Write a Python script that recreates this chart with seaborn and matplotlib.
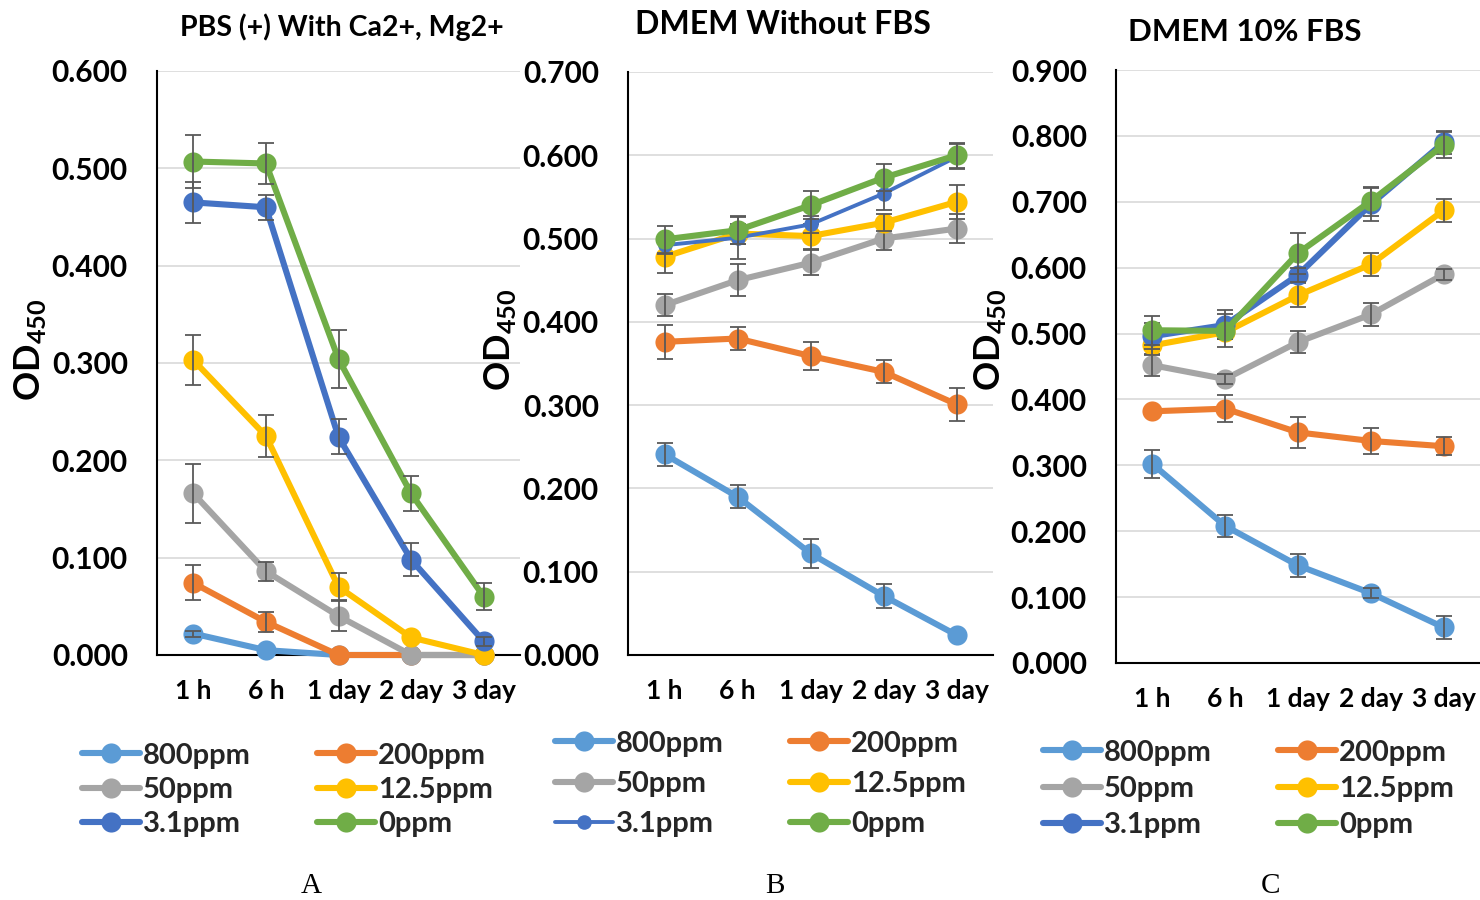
import numpy as np
import pandas as pd
import matplotlib
matplotlib.use("Agg")
import matplotlib.pyplot as plt
from matplotlib.lines import Line2D
from matplotlib.ticker import FormatStrFormatter, MultipleLocator
import seaborn as sns

# ---------------- data ----------------
times = ["1 h", "6 h", "1 day", "2 day", "3 day"]
conc = ["800ppm", "200ppm", "50ppm", "12.5ppm", "3.1ppm", "0ppm"]
colors = ["#5B9BD5", "#ED7D31", "#A5A5A5", "#FFC000", "#4472C4", "#70AD47"]

panel_titles = ["PBS (+) With Ca2+, Mg2+", "DMEM Without FBS", "DMEM 10% FBS"]
panel_letters = ["A", "B", "C"]

pbs_800 = [0.022, 0.005, 0.000, 0.000, 0.000]
pbs_200 = [0.074, 0.034, 0.000, 0.000, 0.000]
pbs_50 = [0.166, 0.086, 0.040, 0.000, 0.000]
pbs_12 = [0.303, 0.225, 0.070, 0.018, 0.000]
pbs_3 = [0.465, 0.460, 0.224, 0.098, 0.014]
pbs_0 = [0.507, 0.505, 0.304, 0.166, 0.060]
pbs_800_err = [0.003, 0.000, 0.000, 0.000, 0.000]
pbs_200_err = [0.018, 0.010, 0.000, 0.000, 0.000]
pbs_50_err = [0.030, 0.010, 0.015, 0.000, 0.000]
pbs_12_err = [0.026, 0.022, 0.014, 0.000, 0.000]
pbs_3_err = [0.021, 0.013, 0.018, 0.017, 0.005]
pbs_0_err = [0.027, 0.021, 0.030, 0.018, 0.014]

nofbs_800 = [0.241, 0.190, 0.122, 0.071, 0.024]
nofbs_200 = [0.376, 0.380, 0.359, 0.340, 0.301]
nofbs_50 = [0.420, 0.450, 0.471, 0.500, 0.512]
nofbs_12 = [0.478, 0.506, 0.503, 0.519, 0.544]
nofbs_3 = [0.492, 0.501, 0.517, 0.554, 0.598]
nofbs_0 = [0.499, 0.510, 0.540, 0.573, 0.600]
nofbs_800_err = [0.014, 0.014, 0.017, 0.014, 0.000]
nofbs_200_err = [0.020, 0.014, 0.017, 0.014, 0.020]
nofbs_50_err = [0.013, 0.019, 0.015, 0.014, 0.017]
nofbs_12_err = [0.019, 0.012, 0.015, 0.010, 0.020]
nofbs_3_err = [0.010, 0.026, 0.010, 0.020, 0.015]
nofbs_0_err = [0.016, 0.016, 0.017, 0.016, 0.015]

fbs_800 = [0.302, 0.208, 0.148, 0.106, 0.054]
fbs_200 = [0.382, 0.386, 0.350, 0.337, 0.329]
fbs_50 = [0.452, 0.431, 0.487, 0.529, 0.590]
fbs_12 = [0.482, 0.502, 0.558, 0.605, 0.687]
fbs_3 = [0.496, 0.513, 0.589, 0.696, 0.790]
fbs_0 = [0.505, 0.504, 0.622, 0.701, 0.786]
fbs_800_err = [0.021, 0.017, 0.017, 0.008, 0.017]
fbs_200_err = [0.000, 0.020, 0.023, 0.020, 0.014]
fbs_50_err = [0.017, 0.008, 0.017, 0.017, 0.008]
fbs_12_err = [0.015, 0.010, 0.018, 0.018, 0.017]
fbs_3_err = [0.020, 0.022, 0.010, 0.025, 0.018]
fbs_0_err = [0.022, 0.025, 0.031, 0.022, 0.020]

panels_vals = [
    [pbs_800, pbs_200, pbs_50, pbs_12, pbs_3, pbs_0],
    [nofbs_800, nofbs_200, nofbs_50, nofbs_12, nofbs_3, nofbs_0],
    [fbs_800, fbs_200, fbs_50, fbs_12, fbs_3, fbs_0],
]
panels_errs = [
    [pbs_800_err, pbs_200_err, pbs_50_err, pbs_12_err, pbs_3_err, pbs_0_err],
    [nofbs_800_err, nofbs_200_err, nofbs_50_err, nofbs_12_err, nofbs_3_err, nofbs_0_err],
    [fbs_800_err, fbs_200_err, fbs_50_err, fbs_12_err, fbs_3_err, fbs_0_err],
]
ymax = [0.6, 0.7, 0.9]

# ---------------- style ----------------
sns.set_theme(style="white")
plt.rcParams["font.family"] = ["Lato", "DejaVu Sans"]
plt.rcParams["font.weight"] = "bold"
plt.rcParams["mathtext.fontset"] = "custom"
plt.rcParams["mathtext.rm"] = "Lato"
plt.rcParams["mathtext.bf"] = "Lato:bold"

W, H = 1480, 900
fig = plt.figure(figsize=(W / 100, H / 100), dpi=100)

def fx(px):
    return px / W

def fy(py):
    return 1 - py / H

# axes rectangles in pixels: left, right, top, bottom
rects = [(157, 520, 71, 655), (628, 993, 72, 655), (1116, 1480, 70, 663)]
title_pos = [(342, 27, 20.5), (783, 25, 23), (1245, 32, 22.5)]
ylab_pos = [(30, 350), (500, 340), (990, 340)]
letter_pos = [(311, 886), (775, 886), (1271, 886)]
legend_cols = [(82, 317), (555, 790), (1043, 1278)]
legend_rows = [(755, 790, 825), (743, 784, 825), (752, 789, 826)]

x_idx = np.arange(len(times))
leg_fs = 21
leg_px = leg_fs * 100 / 72

for p in range(3):
    l, r, t, b = rects[p]
    ax = fig.add_axes([fx(l), fy(b), (r - l) / W, (b - t) / H])
    ax.set_facecolor("white")
    handles = []
    for k in range(len(conc)):
        vals = np.array(panels_vals[p][k])
        errs = np.array(panels_errs[p][k])
        thin = (p == 1 and k == 4)
        lw = 2.8 if thin else 4.4
        ms = 10.5 if thin else 14.5
        df = pd.DataFrame({"t": x_idx, "od": vals})
        sns.lineplot(data=df, x="t", y="od", ax=ax, color=colors[k], marker="o",
                     markersize=ms, markeredgewidth=0, linewidth=lw,
                     errorbar=None, legend=False, zorder=3 + k * 0.1, clip_on=False)
        mask = errs > 0
        ax.errorbar(x_idx[mask], vals[mask], yerr=errs[mask], fmt="none",
                    ecolor="#595959", elinewidth=1.3, capsize=5.5, capthick=1.3,
                    zorder=3.05 + k * 0.1, clip_on=False)
        handles.append(Line2D([], [], color=colors[k], lw=lw, marker="o",
                              markersize=ms, markeredgewidth=0,
                              solid_capstyle="round"))
    ax.set_xlim(-0.5, len(times) - 0.5)
    ax.set_ylim(0, ymax[p])
    ax.yaxis.set_major_locator(MultipleLocator(0.1))
    ax.yaxis.set_major_formatter(FormatStrFormatter("%.3f"))
    ax.set_xticks(x_idx)
    ax.set_xticklabels(times)
    ax.set_xlabel("")
    ax.set_ylabel("")
    ax.yaxis.grid(True, color="#D9D9D9", linewidth=1.2, zorder=0)
    ax.xaxis.grid(False)
    ax.set_axisbelow(True)
    for s in ["top", "right"]:
        ax.spines[s].set_visible(False)
    for s in ["left", "bottom"]:
        ax.spines[s].set_color("black")
        ax.spines[s].set_linewidth(1.5)
    ax.tick_params(axis="y", length=0, pad=21, labelsize=21.5)
    ax.tick_params(axis="x", length=0, pad=17, labelsize=19)
    for lab in ax.get_xticklabels() + ax.get_yticklabels():
        lab.set_fontweight("bold")
        lab.set_color("black")

    tx, ty, ts = title_pos[p]
    fig.text(fx(tx), fy(ty), panel_titles[p], ha="center", va="center",
             fontsize=ts, fontweight="bold", color="black")
    lx, ly = ylab_pos[p]
    fig.text(fx(lx), fy(ly), r"$\mathbf{OD}_{\mathbf{450}}$", rotation=90,
             ha="center", va="center", fontsize=26, color="black")
    ax_, ay_ = letter_pos[p]
    fig.text(fx(ax_), fy(ay_), panel_letters[p], ha="center", va="center",
             fontsize=21, family="Liberation Serif", fontweight="normal",
             color="black")

    rows = legend_rows[p]
    spacing = (rows[2] - rows[0]) / 2
    labsp = max((spacing - 0.91 * leg_px) / leg_px, 0.0)
    for c, cx in enumerate(legend_cols[p]):
        ids = [0 + c, 2 + c, 4 + c]
        leg = fig.legend([handles[i] for i in ids], [conc[i] for i in ids],
                         loc="center left", bbox_to_anchor=(fx(cx), fy(rows[1])),
                         frameon=False, borderpad=0, borderaxespad=0,
                         handlelength=2.0, handletextpad=0.1,
                         labelspacing=labsp,
                         prop={"family": "Lato", "weight": "bold", "size": leg_fs})

fig.savefig("out.png", dpi=100, facecolor="white")
